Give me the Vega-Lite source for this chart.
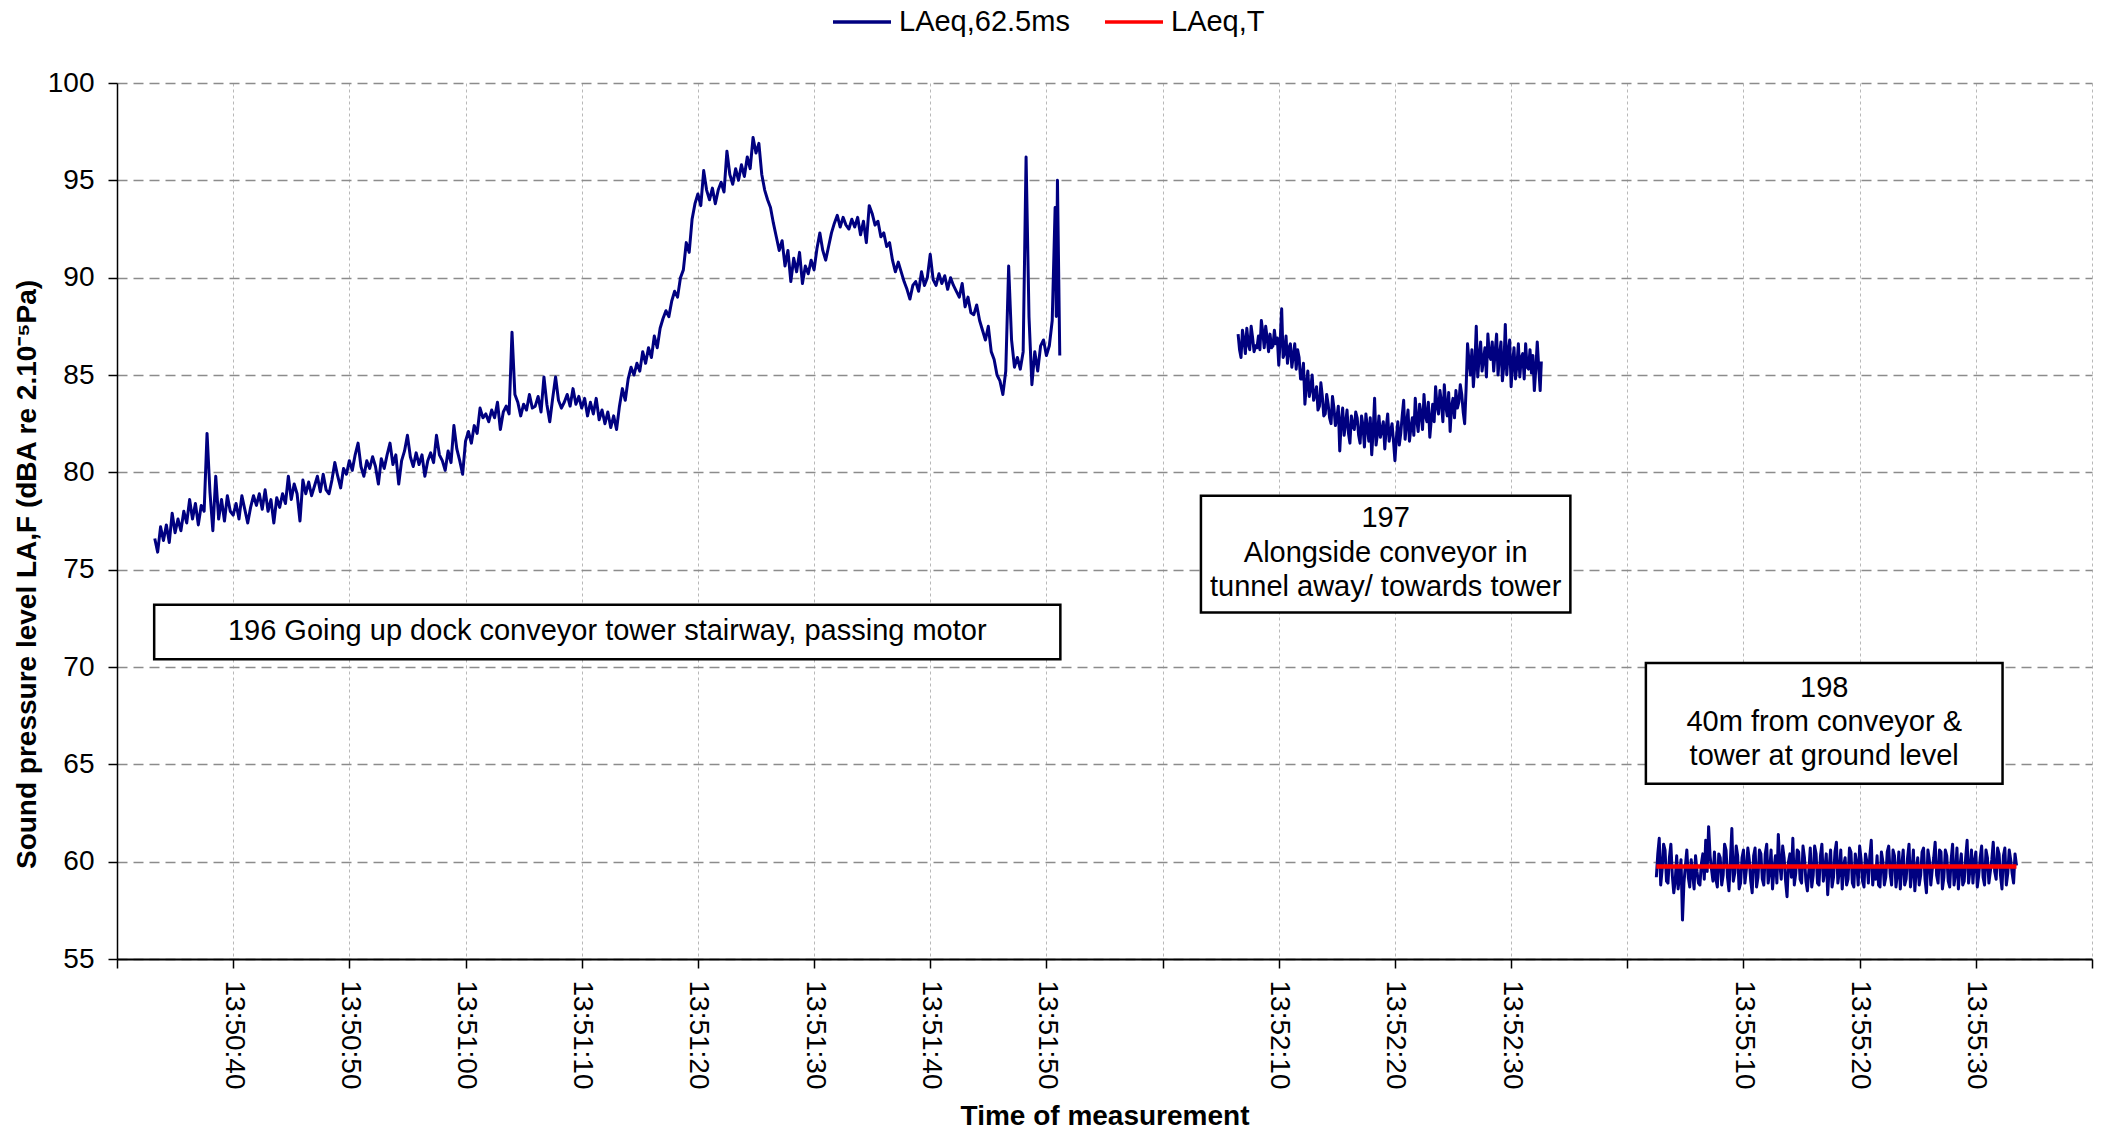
{
"$schema":"https://vega.github.io/schema/vega-lite/v6.json",
"width":1975,"height":876,
"autosize":{"type":"none"},
"padding":{"left":117,"top":83,"right":13,"bottom":172},
"background":"white",
"config":{"view":{"stroke":null},"font":"Liberation Sans"},
"datasets":{
"lp":[
{"t":3.25,"v":76.6,"g":1},{"t":3.5,"v":75.9,"g":1},{"t":3.75,"v":77.2,"g":1},{"t":4.0,"v":76.5,"g":1},
{"t":4.25,"v":77.3,"g":1},{"t":4.5,"v":76.4,"g":1},{"t":4.75,"v":77.9,"g":1},{"t":5.0,"v":76.9,"g":1},
{"t":5.25,"v":77.6,"g":1},{"t":5.5,"v":77.0,"g":1},{"t":5.75,"v":78.0,"g":1},{"t":6.0,"v":77.4,"g":1},
{"t":6.25,"v":78.6,"g":1},{"t":6.5,"v":77.6,"g":1},{"t":6.75,"v":78.4,"g":1},{"t":7.0,"v":77.3,"g":1},
{"t":7.25,"v":78.3,"g":1},{"t":7.5,"v":78.0,"g":1},{"t":7.75,"v":82.0,"g":1},{"t":8.0,"v":79.0,"g":1},
{"t":8.25,"v":77.0,"g":1},{"t":8.5,"v":79.8,"g":1},{"t":8.75,"v":77.6,"g":1},{"t":9.0,"v":78.6,"g":1},
{"t":9.25,"v":77.5,"g":1},{"t":9.5,"v":78.8,"g":1},{"t":9.75,"v":78.0,"g":1},{"t":10.0,"v":77.8,"g":1},
{"t":10.25,"v":78.4,"g":1},{"t":10.5,"v":77.6,"g":1},{"t":10.75,"v":78.8,"g":1},{"t":11.0,"v":78.1,"g":1},
{"t":11.25,"v":77.4,"g":1},{"t":11.5,"v":78.2,"g":1},{"t":11.75,"v":78.8,"g":1},{"t":12.0,"v":78.3,"g":1},
{"t":12.25,"v":78.9,"g":1},{"t":12.5,"v":78.1,"g":1},{"t":12.75,"v":79.1,"g":1},{"t":13.0,"v":78.0,"g":1},
{"t":13.25,"v":78.6,"g":1},{"t":13.5,"v":77.4,"g":1},{"t":13.75,"v":78.7,"g":1},{"t":14.0,"v":78.2,"g":1},
{"t":14.25,"v":78.9,"g":1},{"t":14.5,"v":78.4,"g":1},{"t":14.75,"v":79.8,"g":1},{"t":15.0,"v":78.6,"g":1},
{"t":15.25,"v":79.4,"g":1},{"t":15.5,"v":78.9,"g":1},{"t":15.75,"v":77.5,"g":1},{"t":16.0,"v":79.6,"g":1},
{"t":16.25,"v":78.9,"g":1},{"t":16.5,"v":79.5,"g":1},{"t":16.75,"v":78.8,"g":1},{"t":17.0,"v":79.3,"g":1},
{"t":17.25,"v":79.8,"g":1},{"t":17.5,"v":79.0,"g":1},{"t":17.75,"v":79.9,"g":1},{"t":18.0,"v":79.1,"g":1},
{"t":18.25,"v":78.9,"g":1},{"t":18.5,"v":79.6,"g":1},{"t":18.75,"v":80.5,"g":1},{"t":19.0,"v":79.8,"g":1},
{"t":19.25,"v":79.2,"g":1},{"t":19.5,"v":80.2,"g":1},{"t":19.75,"v":79.9,"g":1},{"t":20.0,"v":80.6,"g":1},
{"t":20.25,"v":80.1,"g":1},{"t":20.5,"v":80.9,"g":1},{"t":20.75,"v":81.5,"g":1},{"t":21.0,"v":80.3,"g":1},
{"t":21.25,"v":79.8,"g":1},{"t":21.5,"v":80.6,"g":1},{"t":21.75,"v":80.2,"g":1},{"t":22.0,"v":80.8,"g":1},
{"t":22.25,"v":80.3,"g":1},{"t":22.5,"v":79.4,"g":1},{"t":22.75,"v":80.7,"g":1},{"t":23.0,"v":80.2,"g":1},
{"t":23.25,"v":80.9,"g":1},{"t":23.5,"v":81.5,"g":1},{"t":23.75,"v":80.4,"g":1},{"t":24.0,"v":80.9,"g":1},
{"t":24.25,"v":79.4,"g":1},{"t":24.5,"v":80.6,"g":1},{"t":24.75,"v":81.1,"g":1},{"t":25.0,"v":81.9,"g":1},
{"t":25.25,"v":80.8,"g":1},{"t":25.5,"v":80.3,"g":1},{"t":25.75,"v":81.0,"g":1},{"t":26.0,"v":80.4,"g":1},
{"t":26.25,"v":80.9,"g":1},{"t":26.5,"v":79.8,"g":1},{"t":26.75,"v":80.6,"g":1},{"t":27.0,"v":81.0,"g":1},
{"t":27.25,"v":80.5,"g":1},{"t":27.5,"v":81.9,"g":1},{"t":27.75,"v":80.9,"g":1},{"t":28.0,"v":80.6,"g":1},
{"t":28.25,"v":80.1,"g":1},{"t":28.5,"v":81.1,"g":1},{"t":28.75,"v":80.5,"g":1},{"t":29.0,"v":82.4,"g":1},
{"t":29.25,"v":81.2,"g":1},{"t":29.5,"v":80.6,"g":1},{"t":29.75,"v":79.9,"g":1},{"t":30.0,"v":81.6,"g":1},
{"t":30.25,"v":82.1,"g":1},{"t":30.5,"v":81.5,"g":1},{"t":30.75,"v":82.4,"g":1},{"t":31.0,"v":82.0,"g":1},
{"t":31.25,"v":83.3,"g":1},{"t":31.5,"v":82.8,"g":1},{"t":31.75,"v":83.0,"g":1},{"t":32.0,"v":82.6,"g":1},
{"t":32.25,"v":83.2,"g":1},{"t":32.5,"v":82.8,"g":1},{"t":32.75,"v":83.6,"g":1},{"t":33.0,"v":82.2,"g":1},
{"t":33.25,"v":83.1,"g":1},{"t":33.5,"v":83.4,"g":1},{"t":33.75,"v":83.0,"g":1},{"t":34.0,"v":87.2,"g":1},
{"t":34.25,"v":84.0,"g":1},{"t":34.5,"v":83.6,"g":1},{"t":34.75,"v":82.9,"g":1},{"t":35.0,"v":83.5,"g":1},
{"t":35.25,"v":83.2,"g":1},{"t":35.5,"v":84.0,"g":1},{"t":35.75,"v":83.3,"g":1},{"t":36.0,"v":83.4,"g":1},
{"t":36.25,"v":83.9,"g":1},{"t":36.5,"v":83.1,"g":1},{"t":36.75,"v":84.9,"g":1},{"t":37.0,"v":83.5,"g":1},
{"t":37.25,"v":82.6,"g":1},{"t":37.5,"v":83.8,"g":1},{"t":37.75,"v":84.9,"g":1},{"t":38.0,"v":83.7,"g":1},
{"t":38.25,"v":83.3,"g":1},{"t":38.5,"v":83.6,"g":1},{"t":38.75,"v":84.0,"g":1},{"t":39.0,"v":83.4,"g":1},
{"t":39.25,"v":84.3,"g":1},{"t":39.5,"v":83.5,"g":1},{"t":39.75,"v":83.9,"g":1},{"t":40.0,"v":83.3,"g":1},
{"t":40.25,"v":83.8,"g":1},{"t":40.5,"v":82.9,"g":1},{"t":40.75,"v":83.6,"g":1},{"t":41.0,"v":83.0,"g":1},
{"t":41.25,"v":83.8,"g":1},{"t":41.5,"v":82.7,"g":1},{"t":41.75,"v":83.2,"g":1},{"t":42.0,"v":82.5,"g":1},
{"t":42.25,"v":83.1,"g":1},{"t":42.5,"v":82.3,"g":1},{"t":42.75,"v":82.9,"g":1},{"t":43.0,"v":82.2,"g":1},
{"t":43.25,"v":83.4,"g":1},{"t":43.5,"v":84.3,"g":1},{"t":43.75,"v":83.7,"g":1},{"t":44.0,"v":84.8,"g":1},
{"t":44.25,"v":85.4,"g":1},{"t":44.5,"v":85.0,"g":1},{"t":44.75,"v":85.6,"g":1},{"t":45.0,"v":85.2,"g":1},
{"t":45.25,"v":86.2,"g":1},{"t":45.5,"v":85.6,"g":1},{"t":45.75,"v":86.4,"g":1},{"t":46.0,"v":85.9,"g":1},
{"t":46.25,"v":87.0,"g":1},{"t":46.5,"v":86.4,"g":1},{"t":46.75,"v":87.4,"g":1},{"t":47.0,"v":87.9,"g":1},
{"t":47.25,"v":88.3,"g":1},{"t":47.5,"v":88.0,"g":1},{"t":47.75,"v":88.8,"g":1},{"t":48.0,"v":89.3,"g":1},
{"t":48.25,"v":89.0,"g":1},{"t":48.5,"v":90.0,"g":1},{"t":48.75,"v":90.4,"g":1},{"t":49.0,"v":91.8,"g":1},
{"t":49.25,"v":91.3,"g":1},{"t":49.5,"v":93.0,"g":1},{"t":49.75,"v":93.8,"g":1},{"t":50.0,"v":94.3,"g":1},
{"t":50.25,"v":93.7,"g":1},{"t":50.5,"v":95.5,"g":1},{"t":50.75,"v":94.5,"g":1},{"t":51.0,"v":94.0,"g":1},
{"t":51.25,"v":94.6,"g":1},{"t":51.5,"v":93.8,"g":1},{"t":51.75,"v":94.5,"g":1},{"t":52.0,"v":94.9,"g":1},
{"t":52.25,"v":94.4,"g":1},{"t":52.5,"v":96.5,"g":1},{"t":52.75,"v":95.3,"g":1},{"t":53.0,"v":94.8,"g":1},
{"t":53.25,"v":95.6,"g":1},{"t":53.5,"v":95.0,"g":1},{"t":53.75,"v":95.8,"g":1},{"t":54.0,"v":95.2,"g":1},
{"t":54.25,"v":96.2,"g":1},{"t":54.5,"v":95.6,"g":1},{"t":54.75,"v":97.2,"g":1},{"t":55.0,"v":96.4,"g":1},
{"t":55.25,"v":96.9,"g":1},{"t":55.5,"v":95.3,"g":1},{"t":55.75,"v":94.5,"g":1},{"t":56.0,"v":94.0,"g":1},
{"t":56.25,"v":93.6,"g":1},{"t":56.5,"v":92.8,"g":1},{"t":56.75,"v":92.1,"g":1},{"t":57.0,"v":91.4,"g":1},
{"t":57.25,"v":91.9,"g":1},{"t":57.5,"v":90.6,"g":1},{"t":57.75,"v":91.4,"g":1},{"t":58.0,"v":89.8,"g":1},
{"t":58.25,"v":91.0,"g":1},{"t":58.5,"v":90.3,"g":1},{"t":58.75,"v":91.3,"g":1},{"t":59.0,"v":89.7,"g":1},
{"t":59.25,"v":90.6,"g":1},{"t":59.5,"v":90.2,"g":1},{"t":59.75,"v":90.9,"g":1},{"t":60.0,"v":90.4,"g":1},
{"t":60.25,"v":91.5,"g":1},{"t":60.5,"v":92.3,"g":1},{"t":60.75,"v":91.4,"g":1},{"t":61.0,"v":90.9,"g":1},
{"t":61.25,"v":91.6,"g":1},{"t":61.5,"v":92.3,"g":1},{"t":61.75,"v":92.8,"g":1},{"t":62.0,"v":93.2,"g":1},
{"t":62.25,"v":92.6,"g":1},{"t":62.5,"v":93.1,"g":1},{"t":62.75,"v":92.7,"g":1},{"t":63.0,"v":92.5,"g":1},
{"t":63.25,"v":93.0,"g":1},{"t":63.5,"v":92.6,"g":1},{"t":63.75,"v":93.1,"g":1},{"t":64.0,"v":92.2,"g":1},
{"t":64.25,"v":92.9,"g":1},{"t":64.5,"v":91.8,"g":1},{"t":64.75,"v":93.7,"g":1},{"t":65.0,"v":93.3,"g":1},
{"t":65.25,"v":92.7,"g":1},{"t":65.5,"v":92.9,"g":1},{"t":65.75,"v":92.1,"g":1},{"t":66.0,"v":92.3,"g":1},
{"t":66.25,"v":91.6,"g":1},{"t":66.5,"v":91.8,"g":1},{"t":66.75,"v":90.9,"g":1},{"t":67.0,"v":90.3,"g":1},
{"t":67.25,"v":90.8,"g":1},{"t":67.5,"v":90.3,"g":1},{"t":67.75,"v":89.8,"g":1},{"t":68.0,"v":89.4,"g":1},
{"t":68.25,"v":88.9,"g":1},{"t":68.5,"v":89.6,"g":1},{"t":68.75,"v":89.8,"g":1},{"t":69.0,"v":89.3,"g":1},
{"t":69.25,"v":90.3,"g":1},{"t":69.5,"v":89.6,"g":1},{"t":69.75,"v":90.0,"g":1},{"t":70.0,"v":91.2,"g":1},
{"t":70.25,"v":89.9,"g":1},{"t":70.5,"v":89.6,"g":1},{"t":70.75,"v":90.2,"g":1},{"t":71.0,"v":89.7,"g":1},
{"t":71.25,"v":90.1,"g":1},{"t":71.5,"v":89.4,"g":1},{"t":71.75,"v":90.0,"g":1},{"t":72.0,"v":89.6,"g":1},
{"t":72.25,"v":89.3,"g":1},{"t":72.5,"v":89.0,"g":1},{"t":72.75,"v":89.7,"g":1},{"t":73.0,"v":88.5,"g":1},
{"t":73.25,"v":89.0,"g":1},{"t":73.5,"v":88.2,"g":1},{"t":73.75,"v":88.1,"g":1},{"t":74.0,"v":88.6,"g":1},
{"t":74.25,"v":87.8,"g":1},{"t":74.5,"v":87.3,"g":1},{"t":74.75,"v":86.8,"g":1},{"t":75.0,"v":87.5,"g":1},
{"t":75.25,"v":86.2,"g":1},{"t":75.5,"v":85.8,"g":1},{"t":75.75,"v":85.0,"g":1},{"t":76.0,"v":84.7,"g":1},
{"t":76.25,"v":84.0,"g":1},{"t":76.5,"v":85.2,"g":1},{"t":76.75,"v":90.6,"g":1},{"t":77.0,"v":86.8,"g":1},
{"t":77.25,"v":85.4,"g":1},{"t":77.5,"v":85.9,"g":1},{"t":77.75,"v":85.3,"g":1},{"t":78.0,"v":86.2,"g":1},
{"t":78.25,"v":96.2,"g":1},{"t":78.5,"v":88.0,"g":1},{"t":78.75,"v":84.5,"g":1},{"t":79.0,"v":86.2,"g":1},
{"t":79.25,"v":85.2,"g":1},{"t":79.5,"v":86.5,"g":1},{"t":79.75,"v":86.8,"g":1},{"t":80.0,"v":86.0,"g":1},
{"t":80.25,"v":86.5,"g":1},{"t":80.5,"v":87.8,"g":1},{"t":80.75,"v":93.6,"g":1},{"t":80.85,"v":88.0,"g":1},
{"t":80.95,"v":95.0,"g":1},{"t":81.05,"v":90.5,"g":1},{"t":81.15,"v":86.0,"g":1},
{"t":96.5,"v":87.1,"g":2},{"t":96.75,"v":85.9,"g":2},{"t":97.0,"v":86.8,"g":2},{"t":97.25,"v":87.4,"g":2},
{"t":97.5,"v":86.3,"g":2},{"t":97.75,"v":86.9,"g":2},{"t":98.0,"v":86.5,"g":2},{"t":98.25,"v":87.0,"g":2},
{"t":98.5,"v":87.8,"g":2},{"t":98.75,"v":86.4,"g":2},{"t":99.0,"v":86.9,"g":2},{"t":99.25,"v":87.1,"g":2},
{"t":99.5,"v":86.5,"g":2},{"t":99.75,"v":86.6,"g":2},{"t":100.0,"v":85.5,"g":2},{"t":100.25,"v":88.4,"g":2},
{"t":100.5,"v":86.1,"g":2},{"t":100.75,"v":85.6,"g":2},{"t":101.0,"v":86.6,"g":2},{"t":101.25,"v":86.0,"g":2},
{"t":101.5,"v":85.3,"g":2},{"t":101.75,"v":85.9,"g":2},{"t":102.0,"v":84.8,"g":2},{"t":102.25,"v":83.5,"g":2},
{"t":102.5,"v":85.2,"g":2},{"t":102.75,"v":84.3,"g":2},{"t":103.0,"v":83.7,"g":2},{"t":103.25,"v":84.4,"g":2},
{"t":103.5,"v":83.4,"g":2},{"t":103.75,"v":83.9,"g":2},{"t":104.0,"v":83.0,"g":2},{"t":104.25,"v":83.5,"g":2},
{"t":104.5,"v":82.5,"g":2},{"t":104.75,"v":83.3,"g":2},{"t":105.0,"v":82.8,"g":2},{"t":105.25,"v":81.1,"g":2},
{"t":105.5,"v":83.3,"g":2},{"t":105.75,"v":82.5,"g":2},{"t":106.0,"v":82.0,"g":2},{"t":106.25,"v":82.9,"g":2},
{"t":106.5,"v":82.2,"g":2},{"t":106.75,"v":82.8,"g":2},{"t":107.0,"v":81.5,"g":2},{"t":107.25,"v":82.4,"g":2},
{"t":107.5,"v":83.0,"g":2},{"t":107.75,"v":81.6,"g":2},{"t":108.0,"v":80.9,"g":2},{"t":108.25,"v":83.8,"g":2},
{"t":108.5,"v":82.0,"g":2},{"t":108.75,"v":81.8,"g":2},{"t":109.0,"v":82.6,"g":2},{"t":109.25,"v":82.3,"g":2},
{"t":109.5,"v":81.6,"g":2},{"t":109.75,"v":82.5,"g":2},{"t":110.0,"v":80.6,"g":2},{"t":110.25,"v":82.6,"g":2},
{"t":110.5,"v":82.0,"g":2},{"t":110.75,"v":83.7,"g":2},{"t":111.0,"v":82.5,"g":2},{"t":111.25,"v":81.6,"g":2},
{"t":111.5,"v":82.8,"g":2},{"t":111.75,"v":83.8,"g":2},{"t":112.0,"v":82.1,"g":2},{"t":112.25,"v":83.0,"g":2},
{"t":112.5,"v":84.0,"g":2},{"t":112.75,"v":82.6,"g":2},{"t":113.0,"v":81.8,"g":2},{"t":113.25,"v":83.5,"g":2},
{"t":113.5,"v":84.4,"g":2},{"t":113.75,"v":83.0,"g":2},{"t":114.0,"v":83.6,"g":2},{"t":114.25,"v":84.5,"g":2},
{"t":114.5,"v":82.9,"g":2},{"t":114.75,"v":82.1,"g":2},{"t":115.0,"v":83.8,"g":2},{"t":115.25,"v":84.2,"g":2},
{"t":115.5,"v":83.6,"g":2},{"t":115.75,"v":84.0,"g":2},{"t":116.0,"v":82.5,"g":2},{"t":116.25,"v":86.6,"g":2},
{"t":116.5,"v":85.0,"g":2},{"t":116.75,"v":84.4,"g":2},{"t":117.0,"v":87.5,"g":2},{"t":117.25,"v":85.9,"g":2},
{"t":117.5,"v":85.2,"g":2},{"t":117.75,"v":86.4,"g":2},{"t":118.0,"v":87.1,"g":2},{"t":118.25,"v":85.8,"g":2},
{"t":118.5,"v":85.2,"g":2},{"t":118.75,"v":87.1,"g":2},{"t":119.0,"v":86.0,"g":2},{"t":119.25,"v":84.7,"g":2},
{"t":119.5,"v":87.6,"g":2},{"t":119.75,"v":86.2,"g":2},{"t":120.0,"v":84.4,"g":2},{"t":120.25,"v":86.4,"g":2},
{"t":120.5,"v":85.5,"g":2},{"t":120.75,"v":84.9,"g":2},{"t":121.0,"v":86.1,"g":2},{"t":121.25,"v":86.6,"g":2},
{"t":121.5,"v":85.3,"g":2},{"t":121.75,"v":85.1,"g":2},{"t":122.0,"v":84.2,"g":2},{"t":122.25,"v":86.7,"g":2},
{"t":122.5,"v":84.2,"g":2},{"t":122.6,"v":85.7,"g":2},
{"t":96.625,"v":86.3,"g":2},{"t":96.875,"v":87.3,"g":2},{"t":97.125,"v":86.1,"g":2},{"t":97.375,"v":86.6,"g":2},
{"t":97.625,"v":87.5,"g":2},{"t":97.875,"v":86.2,"g":2},{"t":98.125,"v":86.4,"g":2},{"t":98.375,"v":86.3,"g":2},
{"t":98.625,"v":87.2,"g":2},{"t":98.875,"v":87.5,"g":2},{"t":99.125,"v":86.2,"g":2},{"t":99.375,"v":86.4,"g":2},
{"t":99.625,"v":87.3,"g":2},{"t":99.875,"v":86.9,"g":2},{"t":100.125,"v":86.8,"g":2},{"t":100.375,"v":85.9,"g":2},
{"t":100.625,"v":87.0,"g":2},{"t":100.875,"v":86.4,"g":2},{"t":101.125,"v":85.4,"g":2},{"t":101.375,"v":86.6,"g":2},
{"t":101.625,"v":86.3,"g":2},{"t":101.875,"v":84.8,"g":2},{"t":102.125,"v":85.6,"g":2},{"t":102.375,"v":84.5,"g":2},
{"t":102.625,"v":83.9,"g":2},{"t":102.875,"v":85.0,"g":2},{"t":103.125,"v":84.0,"g":2},{"t":103.375,"v":83.2,"g":2},
{"t":103.625,"v":84.6,"g":2},{"t":103.875,"v":82.9,"g":2},{"t":104.125,"v":84.0,"g":2},{"t":104.375,"v":82.8,"g":2},
{"t":104.625,"v":83.9,"g":2},{"t":104.875,"v":82.4,"g":2},{"t":105.125,"v":83.4,"g":2},{"t":105.375,"v":82.6,"g":2},
{"t":105.625,"v":81.9,"g":2},{"t":105.875,"v":83.2,"g":2},{"t":106.125,"v":81.5,"g":2},{"t":106.375,"v":82.4,"g":2},
{"t":106.625,"v":83.1,"g":2},{"t":106.875,"v":81.9,"g":2},{"t":107.125,"v":82.9,"g":2},{"t":107.375,"v":81.3,"g":2},
{"t":107.625,"v":82.3,"g":2},{"t":107.875,"v":82.8,"g":2},{"t":108.125,"v":82.1,"g":2},{"t":108.375,"v":81.4,"g":2},
{"t":108.625,"v":82.9,"g":2},{"t":108.875,"v":82.2,"g":2},{"t":109.125,"v":81.2,"g":2},{"t":109.375,"v":83.0,"g":2},
{"t":109.625,"v":82.1,"g":2},{"t":109.875,"v":81.6,"g":2},{"t":110.125,"v":81.8,"g":2},{"t":110.375,"v":81.4,"g":2},
{"t":110.625,"v":82.9,"g":2},{"t":110.875,"v":81.7,"g":2},{"t":111.125,"v":83.2,"g":2},{"t":111.375,"v":82.3,"g":2},
{"t":111.625,"v":81.9,"g":2},{"t":111.875,"v":82.7,"g":2},{"t":112.125,"v":83.5,"g":2},{"t":112.375,"v":82.2,"g":2},
{"t":112.625,"v":82.9,"g":2},{"t":112.875,"v":83.6,"g":2},{"t":113.125,"v":82.7,"g":2},{"t":113.375,"v":82.6,"g":2},
{"t":113.625,"v":83.4,"g":2},{"t":113.875,"v":84.2,"g":2},{"t":114.125,"v":82.6,"g":2},{"t":114.375,"v":83.4,"g":2},
{"t":114.625,"v":84.1,"g":2},{"t":114.875,"v":83.4,"g":2},{"t":115.125,"v":82.8,"g":2},{"t":115.375,"v":83.3,"g":2},
{"t":115.625,"v":84.5,"g":2},{"t":115.875,"v":83.1,"g":2},{"t":116.125,"v":84.3,"g":2},{"t":116.375,"v":85.7,"g":2},
{"t":116.625,"v":86.3,"g":2},{"t":116.875,"v":85.5,"g":2},{"t":117.125,"v":84.9,"g":2},{"t":117.375,"v":86.7,"g":2},
{"t":117.625,"v":85.8,"g":2},{"t":117.875,"v":84.9,"g":2},{"t":118.125,"v":86.0,"g":2},{"t":118.375,"v":86.7,"g":2},
{"t":118.625,"v":86.2,"g":2},{"t":118.875,"v":85.0,"g":2},{"t":119.125,"v":86.7,"g":2},{"t":119.375,"v":85.5,"g":2},
{"t":119.625,"v":85.0,"g":2},{"t":119.875,"v":86.8,"g":2},{"t":120.125,"v":85.6,"g":2},{"t":120.375,"v":84.8,"g":2},
{"t":120.625,"v":86.6,"g":2},{"t":120.875,"v":85.9,"g":2},{"t":121.125,"v":84.8,"g":2},{"t":121.375,"v":85.4,"g":2},
{"t":121.625,"v":86.3,"g":2},{"t":121.875,"v":86.0,"g":2},{"t":122.125,"v":85.3,"g":2},{"t":122.375,"v":85.4,"g":2},
{"t":132.5,"v":59.2,"g":3},{"t":132.75,"v":61.2,"g":3},{"t":133.0,"v":59.6,"g":3},{"t":133.25,"v":60.6,"g":3},
{"t":133.5,"v":58.9,"g":3},{"t":133.75,"v":60.9,"g":3},{"t":134.0,"v":58.4,"g":3},{"t":134.25,"v":60.3,"g":3},
{"t":134.5,"v":59.3,"g":3},{"t":134.75,"v":57.0,"g":3},{"t":135.0,"v":59.8,"g":3},{"t":135.25,"v":59.2,"g":3},
{"t":135.5,"v":60.1,"g":3},{"t":135.75,"v":58.6,"g":3},{"t":136.0,"v":59.5,"g":3},{"t":136.25,"v":58.8,"g":3},
{"t":136.5,"v":60.4,"g":3},{"t":136.75,"v":61.1,"g":3},{"t":137.0,"v":61.8,"g":3},{"t":137.25,"v":59.6,"g":3},
{"t":137.5,"v":60.5,"g":3},{"t":137.75,"v":58.7,"g":3},{"t":138.0,"v":60.2,"g":3},{"t":138.25,"v":59.3,"g":3},
{"t":138.5,"v":60.6,"g":3},{"t":138.75,"v":58.5,"g":3},{"t":139.0,"v":61.7,"g":3},{"t":139.25,"v":59.4,"g":3},
{"t":139.5,"v":60.3,"g":3},{"t":139.75,"v":58.9,"g":3},{"t":140.0,"v":60.6,"g":3},{"t":140.25,"v":59.6,"g":3},
{"t":140.5,"v":60.1,"g":3},{"t":140.75,"v":58.4,"g":3},{"t":141.0,"v":60.7,"g":3},{"t":141.25,"v":59.2,"g":3},
{"t":141.5,"v":60.4,"g":3},{"t":141.75,"v":58.8,"g":3},{"t":142.0,"v":60.9,"g":3},{"t":142.25,"v":59.5,"g":3},
{"t":142.5,"v":58.6,"g":3},{"t":142.75,"v":60.3,"g":3},{"t":143.0,"v":61.4,"g":3},{"t":143.25,"v":59.1,"g":3},
{"t":143.5,"v":60.2,"g":3},{"t":143.75,"v":58.2,"g":3},{"t":144.0,"v":60.4,"g":3},{"t":144.25,"v":61.2,"g":3},
{"t":144.5,"v":59.4,"g":3},{"t":144.75,"v":60.5,"g":3},{"t":145.0,"v":58.9,"g":3},{"t":145.25,"v":60.2,"g":3},
{"t":145.5,"v":58.5,"g":3},{"t":145.75,"v":60.7,"g":3},{"t":146.0,"v":59.3,"g":3},{"t":146.25,"v":60.4,"g":3},
{"t":146.5,"v":58.8,"g":3},{"t":146.75,"v":60.9,"g":3},{"t":147.0,"v":59.6,"g":3},{"t":147.25,"v":58.3,"g":3},
{"t":147.5,"v":60.6,"g":3},{"t":147.75,"v":59.2,"g":3},{"t":148.0,"v":61.0,"g":3},{"t":148.25,"v":59.5,"g":3},
{"t":148.5,"v":58.6,"g":3},{"t":148.75,"v":60.2,"g":3},{"t":149.0,"v":59.1,"g":3},{"t":149.25,"v":60.5,"g":3},
{"t":149.5,"v":58.7,"g":3},{"t":149.75,"v":59.9,"g":3},{"t":150.0,"v":60.8,"g":3},{"t":150.25,"v":59.0,"g":3},
{"t":150.5,"v":60.4,"g":3},{"t":150.75,"v":58.9,"g":3},{"t":151.0,"v":61.1,"g":3},{"t":151.25,"v":59.7,"g":3},
{"t":151.5,"v":60.3,"g":3},{"t":151.75,"v":58.7,"g":3},{"t":152.0,"v":60.0,"g":3},{"t":152.25,"v":59.2,"g":3},
{"t":152.5,"v":60.8,"g":3},{"t":152.75,"v":58.8,"g":3},{"t":153.0,"v":60.3,"g":3},{"t":153.25,"v":59.4,"g":3},
{"t":153.5,"v":58.6,"g":3},{"t":153.75,"v":60.6,"g":3},{"t":154.0,"v":59.1,"g":3},{"t":154.25,"v":60.9,"g":3},
{"t":154.5,"v":59.5,"g":3},{"t":154.75,"v":58.5,"g":3},{"t":155.0,"v":60.2,"g":3},{"t":155.25,"v":59.3,"g":3},
{"t":155.5,"v":60.7,"g":3},{"t":155.75,"v":58.4,"g":3},{"t":156.0,"v":60.1,"g":3},{"t":156.25,"v":59.6,"g":3},
{"t":156.5,"v":61.0,"g":3},{"t":156.75,"v":58.9,"g":3},{"t":157.0,"v":60.5,"g":3},{"t":157.25,"v":59.2,"g":3},
{"t":157.5,"v":60.3,"g":3},{"t":157.75,"v":58.7,"g":3},{"t":158.0,"v":60.9,"g":3},{"t":158.25,"v":59.4,"g":3},
{"t":158.5,"v":58.6,"g":3},{"t":158.75,"v":60.4,"g":3},{"t":159.0,"v":59.0,"g":3},{"t":159.25,"v":61.1,"g":3},
{"t":159.5,"v":59.6,"g":3},{"t":159.75,"v":58.9,"g":3},{"t":160.0,"v":60.5,"g":3},{"t":160.25,"v":59.3,"g":3},
{"t":160.5,"v":60.8,"g":3},{"t":160.75,"v":58.8,"g":3},{"t":161.0,"v":60.2,"g":3},{"t":161.25,"v":59.5,"g":3},
{"t":161.5,"v":61.0,"g":3},{"t":161.75,"v":59.1,"g":3},{"t":162.0,"v":60.4,"g":3},{"t":162.25,"v":58.6,"g":3},
{"t":162.5,"v":60.7,"g":3},{"t":162.75,"v":59.4,"g":3},{"t":163.0,"v":60.1,"g":3},{"t":163.25,"v":58.9,"g":3},
{"t":163.5,"v":59.8,"g":3},
{"t":132.625,"v":60.4,"g":3},{"t":132.875,"v":58.8,"g":3},{"t":133.125,"v":60.9,"g":3},{"t":133.375,"v":59.0,"g":3},
{"t":133.625,"v":60.2,"g":3},{"t":133.875,"v":59.3,"g":3},{"t":134.125,"v":59.0,"g":3},{"t":134.375,"v":58.6,"g":3},
{"t":134.625,"v":60.1,"g":3},{"t":134.875,"v":58.9,"g":3},{"t":135.125,"v":60.6,"g":3},{"t":135.375,"v":58.7,"g":3},
{"t":135.625,"v":59.4,"g":3},{"t":135.875,"v":60.3,"g":3},{"t":136.125,"v":58.9,"g":3},{"t":136.375,"v":59.9,"g":3},
{"t":136.625,"v":59.1,"g":3},{"t":136.875,"v":59.5,"g":3},{"t":137.125,"v":60.3,"g":3},{"t":137.375,"v":59.0,"g":3},
{"t":137.625,"v":59.1,"g":3},{"t":137.875,"v":60.4,"g":3},{"t":138.125,"v":58.8,"g":3},{"t":138.375,"v":60.9,"g":3},
{"t":138.625,"v":59.2,"g":3},{"t":138.875,"v":60.1,"g":3},{"t":139.125,"v":59.0,"g":3},{"t":139.375,"v":60.8,"g":3},
{"t":139.625,"v":58.6,"g":3},{"t":139.875,"v":60.2,"g":3},{"t":140.125,"v":58.9,"g":3},{"t":140.375,"v":60.7,"g":3},
{"t":140.625,"v":59.0,"g":3},{"t":140.875,"v":60.3,"g":3},{"t":141.125,"v":58.7,"g":3},{"t":141.375,"v":60.6,"g":3},
{"t":141.625,"v":59.1,"g":3},{"t":141.875,"v":60.4,"g":3},{"t":142.125,"v":58.9,"g":3},{"t":142.375,"v":60.6,"g":3},
{"t":142.625,"v":59.6,"g":3},{"t":142.875,"v":58.9,"g":3},{"t":143.125,"v":59.9,"g":3},{"t":143.375,"v":60.8,"g":3},
{"t":143.625,"v":59.0,"g":3},{"t":143.875,"v":60.0,"g":3},{"t":144.125,"v":59.2,"g":3},{"t":144.375,"v":58.8,"g":3},
{"t":144.625,"v":60.6,"g":3},{"t":144.875,"v":59.1,"g":3},{"t":145.125,"v":60.8,"g":3},{"t":145.375,"v":59.0,"g":3},
{"t":145.625,"v":59.5,"g":3},{"t":145.875,"v":58.7,"g":3},{"t":146.125,"v":60.8,"g":3},{"t":146.375,"v":58.9,"g":3},
{"t":146.625,"v":60.3,"g":3},{"t":146.875,"v":59.0,"g":3},{"t":147.125,"v":60.4,"g":3},{"t":147.375,"v":59.7,"g":3},
{"t":147.625,"v":58.7,"g":3},{"t":147.875,"v":60.5,"g":3},{"t":148.125,"v":58.9,"g":3},{"t":148.375,"v":60.6,"g":3},
{"t":148.625,"v":59.8,"g":3},{"t":148.875,"v":58.8,"g":3},{"t":149.125,"v":60.7,"g":3},{"t":149.375,"v":58.9,"g":3},
{"t":149.625,"v":60.4,"g":3},{"t":149.875,"v":58.8,"g":3},{"t":150.125,"v":60.1,"g":3},{"t":150.375,"v":58.7,"g":3},
{"t":150.625,"v":60.0,"g":3},{"t":150.875,"v":60.3,"g":3},{"t":151.125,"v":58.8,"g":3},{"t":151.375,"v":59.1,"g":3},
{"t":151.625,"v":58.8,"g":3},{"t":151.875,"v":60.5,"g":3},{"t":152.125,"v":58.8,"g":3},{"t":152.375,"v":60.5,"g":3},
{"t":152.625,"v":59.4,"g":3},{"t":152.875,"v":60.6,"g":3},{"t":153.125,"v":58.7,"g":3},{"t":153.375,"v":60.5,"g":3},
{"t":153.625,"v":59.8,"g":3},{"t":153.875,"v":58.8,"g":3},{"t":154.125,"v":60.2,"g":3},{"t":154.375,"v":58.7,"g":3},
{"t":154.625,"v":60.6,"g":3},{"t":154.875,"v":59.6,"g":3},{"t":155.125,"v":58.8,"g":3},{"t":155.375,"v":60.5,"g":3},
{"t":155.625,"v":59.1,"g":3},{"t":155.875,"v":60.6,"g":3},{"t":156.125,"v":58.8,"g":3},{"t":156.375,"v":60.2,"g":3},
{"t":156.625,"v":59.3,"g":3},{"t":156.875,"v":60.6,"g":3},{"t":157.125,"v":58.6,"g":3},{"t":157.375,"v":60.6,"g":3},
{"t":157.625,"v":59.0,"g":3},{"t":157.875,"v":60.1,"g":3},{"t":158.125,"v":58.8,"g":3},{"t":158.375,"v":60.7,"g":3},
{"t":158.625,"v":59.7,"g":3},{"t":158.875,"v":58.8,"g":3},{"t":159.125,"v":60.2,"g":3},{"t":159.375,"v":58.9,"g":3},
{"t":159.625,"v":60.6,"g":3},{"t":159.875,"v":60.0,"g":3},{"t":160.125,"v":58.7,"g":3},{"t":160.375,"v":60.2,"g":3},
{"t":160.625,"v":59.2,"g":3},{"t":160.875,"v":60.6,"g":3},{"t":161.125,"v":58.9,"g":3},{"t":161.375,"v":60.1,"g":3},
{"t":161.625,"v":59.5,"g":3},{"t":161.875,"v":60.7,"g":3},{"t":162.125,"v":59.3,"g":3},{"t":162.375,"v":60.3,"g":3},
{"t":162.625,"v":58.8,"g":3},{"t":162.875,"v":60.6,"g":3},{"t":163.125,"v":59.4,"g":3},{"t":163.375,"v":60.4,"g":3}
],
"lt":[{"t":132.5,"v":59.75},{"t":163.5,"v":59.75}],
"boxes":[
{"t":3.2,"t2":81.2,"v":73.2,"v2":70.4},
{"t":93.3,"t2":125.1,"v":78.8,"v2":72.8},
{"t":131.6,"t2":162.3,"v":70.2,"v2":64.0}
],
"notes":[
{"t":42.2,"v":71.85,"txt":"196 Going up dock conveyor tower stairway, passing motor"},
{"t":109.2,"v":77.65,"txt":"197"},
{"t":109.2,"v":75.85,"txt":"Alongside conveyor in"},
{"t":109.2,"v":74.1,"txt":"tunnel  away/ towards tower"},
{"t":146.95,"v":68.9,"txt":"198"},
{"t":146.95,"v":67.2,"txt":"40m from conveyor &"},
{"t":146.95,"v":65.45,"txt":"tower at ground  level"}
]
},
"layer":[
{
"data":{"name":"lp"},
"mark":{"type":"line","strokeWidth":3,"strokeJoin":"round"},
"encoding":{
"x":{"field":"t","type":"quantitative","scale":{"domain":[0,170],"nice":false,"zero":false},
"axis":{"values":[0,10,20,30,40,50,60,70,80,90,100,110,120,130,140,150,160,170],
"labelExpr":"['','13:50:40','13:50:50','13:51:00','13:51:10','13:51:20','13:51:30','13:51:40','13:51:50','','13:52:10','13:52:20','13:52:30','','13:55:10','13:55:20','13:55:30',''][round(datum.value/10)]",
"labelAngle":90,"labelFont":"Liberation Sans","labelFontSize":28,"labelColor":"black","labelPadding":12,"labelOverlap":false,"labelFlush":false,"labelBound":false,
"tickSize":9,"tickColor":"black","tickWidth":1.5,"domainColor":"black","domainWidth":2,
"grid":true,"gridColor":"#b8b8b8","gridDash":[3,3],"gridWidth":1,
"title":"Time of measurement","titleFont":"Liberation Sans","titleFontSize":28,"titleFontWeight":"bold","titleColor":"black","titlePadding":14}},
"y":{"field":"v","type":"quantitative","scale":{"domain":[55,100],"nice":false,"zero":false},
"axis":{"values":[55,60,65,70,75,80,85,90,95,100],
"labelFont":"Liberation Sans","labelFontSize":28,"labelColor":"black","labelPadding":14,
"tickSize":9,"tickColor":"black","tickWidth":1.5,"domainColor":"black","domainWidth":1.5,
"grid":true,"gridColor":"#8c8c8c","gridDash":[10,6],"gridWidth":1.5,
"title":"Sound pressure level LA,F (dBA re 2.10⁻⁵Pa)","titleFont":"Liberation Sans","titleFontSize":28,"titleFontWeight":"bold","titleColor":"black","titlePadding":6,"titleY":491}},
"detail":{"field":"g","type":"nominal"},
"color":{"datum":"LAeq,62.5ms","type":"nominal",
"scale":{"domain":["LAeq,62.5ms","LAeq,T"],"range":["#000080","#ff0000"]},
"legend":{"orient":"none","legendX":714,"legendY":-92,"direction":"horizontal","title":null,
"symbolType":"stroke","symbolSize":3364,"symbolStrokeWidth":3.5,
"labelFont":"Liberation Sans","labelFontSize":29,"labelColor":"black","labelOffset":6,"labelLimit":400,
"columnPadding":28,"padding":0}}
}
},
{
"data":{"name":"lt"},
"mark":{"type":"line","strokeWidth":4.5},
"encoding":{
"x":{"field":"t","type":"quantitative"},
"y":{"field":"v","type":"quantitative"},
"color":{"datum":"LAeq,T","type":"nominal"}
}
},
{
"data":{"name":"boxes"},
"mark":{"type":"rect","fill":"white","stroke":"black","strokeWidth":2.5},
"encoding":{
"x":{"field":"t","type":"quantitative"},
"x2":{"field":"t2"},
"y":{"field":"v","type":"quantitative"},
"y2":{"field":"v2"}
}
},
{
"data":{"name":"notes"},
"mark":{"type":"text","font":"Liberation Sans","fontSize":29,"color":"black","align":"center","baseline":"middle"},
"encoding":{
"x":{"field":"t","type":"quantitative"},
"y":{"field":"v","type":"quantitative"},
"text":{"field":"txt"}
}
}
]
}
